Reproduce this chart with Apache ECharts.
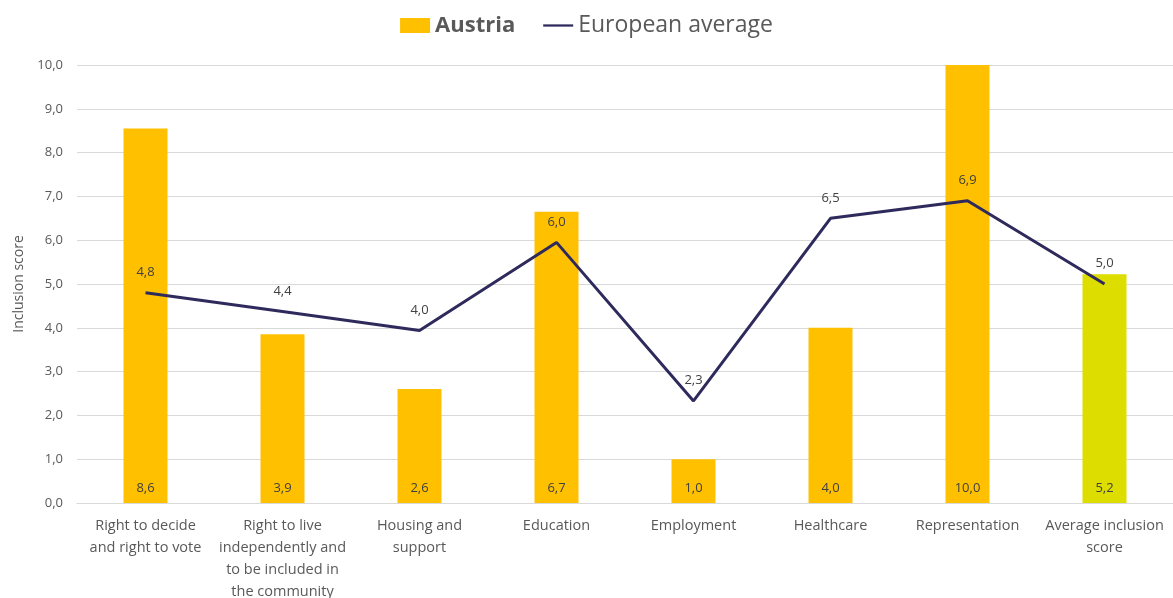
<!DOCTYPE html>
<html>
<head>
<meta charset="utf-8">
<script src="https://cdn.jsdelivr.net/npm/echarts@6/dist/echarts.min.js"></script>
<style>
html,body{margin:0;padding:0;background:#fff;}
#c{width:1173px;height:598px;}
</style>
</head>
<body>
<div id="c"></div>
<script>
const categories = [
  "Right to decide\nand right to vote",
  "Right to live\nindependently and\nto be included in\nthe community",
  "Housing and\nsupport",
  "Education",
  "Employment",
  "Healthcare",
  "Representation",
  "Average inclusion\nscore"
];
const austria = [8.55, 3.85, 2.6, 6.65, 1.0, 4.0, 10.0, 5.22];
const austriaLabels = ["8,6", "3,9", "2,6", "6,7", "1,0", "4,0", "10,0", "5,2"];
const europeanAverage = [4.8, 4.37, 3.94, 5.95, 2.33, 6.5, 6.9, 5.0];
const europeanLabels = ["4,8", "4,4", "4,0", "6,0", "2,3", "6,5", "6,9", "5,0"];
const yTicks = [0, 1, 2, 3, 4, 5, 6, 7, 8, 9, 10];

const FONT = "'Open Sans', 'Liberation Sans', sans-serif";
const TXT = '#595959';

const chart = echarts.init(document.getElementById('c'), null, {renderer: 'canvas'});
chart.setOption({
  animation: false,
  textStyle: {fontFamily: FONT},
  legend: {
    top: 9,
    left: 'center',
    itemGap: 28,
    data: [
      {name: 'Austria', icon: 'rect', itemStyle: {color: '#FFC000'},
        textStyle: {fontWeight: 'bold', fontSize: 22, color: '#595959'}},
      {name: 'European average', icon: 'path://M0,0 L40,0 L40,3 L0,3 Z',
        itemStyle: {color: '#2E2A5C'},
        textStyle: {fontSize: 23, color: '#595959'}}
    ],
    itemWidth: 30,
    itemHeight: 15,
    textStyle: {fontFamily: FONT}
  },
  grid: {left: 77, right: 0, top: 65, bottom: 95, containLabel: false, outerBoundsMode: 'none'},
  xAxis: {
    type: 'category',
    data: categories,
    axisTick: {show: false},
    axisLine: {show: true, lineStyle: {color: '#D9D9D9', width: 1}},
    axisLabel: {
      interval: 0,
      color: TXT,
      fontSize: 14.5,
      lineHeight: 22,
      margin: 12,
      fontFamily: FONT
    }
  },
  yAxis: {
    type: 'value',
    min: 0,
    max: 10,
    interval: 1,
    name: 'Inclusion score',
    nameLocation: 'middle',
    nameGap: 50,
    nameRotate: 90,
    nameTextStyle: {color: TXT, fontSize: 14, fontFamily: FONT},
    axisLine: {show: false},
    axisTick: {show: false},
    splitLine: {lineStyle: {color: '#D9D9D9', width: 1}},
    axisLabel: {
      color: TXT,
      fontSize: 13,
      margin: 14,
      fontFamily: FONT,
      formatter: v => yTicks.includes(v) ? v.toFixed(1).replace('.', ',') : ''
    }
  },
  series: [
    {
      name: 'Austria',
      type: 'bar',
      barWidth: 44,
      data: austria.map((v, i) => ({
        value: v,
        itemStyle: {color: i === austria.length - 1 ? '#DDDD00' : '#FFC000'}
      })),
      itemStyle: {color: '#FFC000'},
      label: {
        show: true,
        position: 'insideBottom',
        distance: 8,
        color: '#404040',
        fontSize: 13,
        fontFamily: FONT,
        formatter: p => austriaLabels[p.dataIndex]
      },
      z: 1
    },
    {
      name: 'European average',
      type: 'line',
      data: europeanAverage,
      symbol: 'circle',
      symbolSize: 0,
      showSymbol: true,
      lineStyle: {color: '#2E2A5C', width: 3},
      itemStyle: {color: '#2E2A5C'},
      label: {
        show: true,
        position: 'top',
        distance: 14,
        color: '#404040',
        fontSize: 13,
        fontFamily: FONT,
        formatter: p => europeanLabels[p.dataIndex]
      },
      labelLayout: {hideOverlap: false},
      z: 3
    }
  ]
});
</script>
</body>
</html>
